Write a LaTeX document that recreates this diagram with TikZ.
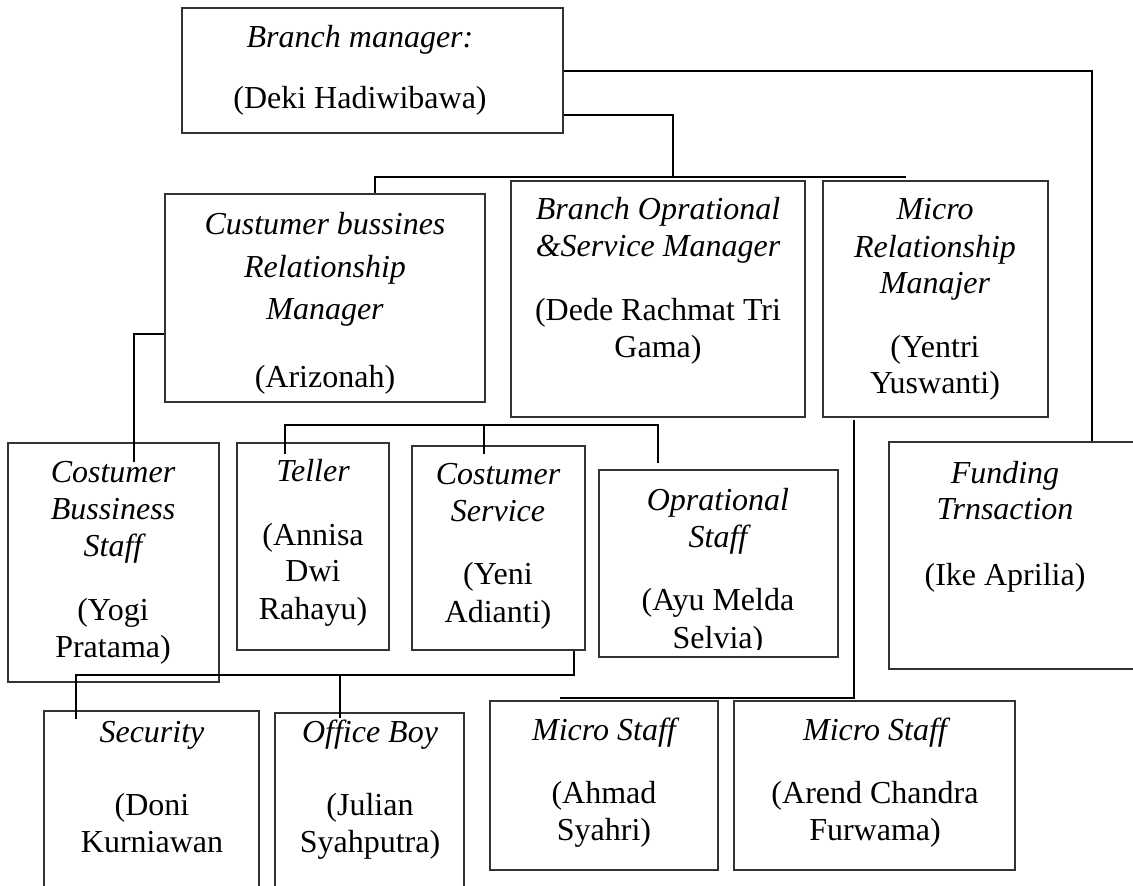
\documentclass[tikz,border=0pt]{standalone}
\usepackage{fontspec}
\setmainfont{Liberation Serif}
\usetikzlibrary{calc}
\newcommand\obox[5]{\node[box, minimum width={(#4-#2)*1pt}, minimum height={(#5-#3)*1pt}] (#1) at ({(#2+#4)/2},{(#3+#5)/2}) {};}
\begin{document}
\begin{tikzpicture}[x=1pt,y=-1pt,
  box/.style={draw=black!80, line width=1.1pt, inner sep=0pt},
  tx/.style={anchor=base, inner sep=0pt, font=\fontsize{32}{37}\selectfont},
  ti/.style={anchor=base, inner sep=0pt, font=\fontsize{32}{37}\selectfont\itshape},
  wire/.style={draw=black, line width=2pt}]
\useasboundingbox (0,0) rectangle (1133,886);
\clip (0,0) rectangle (1133,886);
\fill[white] (0,0) rectangle (1133,886);
% boxes
\obox{bm}{182}{8}{563}{133}
\obox{cbrm}{165}{194}{485}{402}
\obox{bosm}{511}{181}{805}{417}
\obox{mrm}{823}{181}{1048}{417}
\obox{cbs}{8}{443}{219}{682}
\obox{tel}{237}{443}{389}{650}
\obox{cs}{412}{446}{585}{650}
\obox{ops}{599}{470}{838}{657}
\obox{fund}{889}{442}{1145}{669}
\obox{sec}{44}{711}{259}{920}
\obox{ob}{275}{713}{464}{920}
\obox{ms1}{490}{701}{718}{870}
\obox{ms2}{734}{701}{1015}{870}
% texts
\node[ti] (bm1) at (360,47) {Branch manager:};
\node[tx] (bm2) at (360,108) {(Deki Hadiwibawa)};
\node[ti] (cb1) at (325,234) {Custumer bussines};
\node[ti] (cb2) at (325,277) {Relationship};
\node[ti] (cb3) at (325,319) {Manager};
\node[tx] (cb4) at (325,387) {(Arizonah)};
\node[ti] (bo1) at (658,219) {Branch Oprational};
\node[ti] (bo2) at (658,256) {\&Service Manager};
\node[tx] (bo3) at (658,320) {(Dede Rachmat Tri};
\node[tx] (bo4) at (658,357) {Gama)};
\node[ti] (mr1) at (935,219) {Micro};
\node[ti] (mr2) at (935,257) {Relationship};
\node[ti] (mr3) at (935,293) {Manajer};
\node[tx] (mr4) at (935,357) {(Yentri};
\node[tx] (mr5) at (935,393) {Yuswanti)};
\node[ti] (cs1) at (113,482) {Costumer};
\node[ti] (cs2) at (113,519) {Bussiness};
\node[ti] (cs3) at (113,556) {Staff};
\node[tx] (cs4) at (113,620) {(Yogi};
\node[tx] (cs5) at (113,657) {Pratama)};
\node[ti] (te1) at (313,481) {Teller};
\node[tx] (te2) at (313,545) {(Annisa};
\node[tx] (te3) at (313,581) {Dwi};
\node[tx] (te4) at (313,619) {Rahayu)};
\node[ti] (sv1) at (498,484) {Costumer};
\node[ti] (sv2) at (498,521) {Service};
\node[tx] (sv3) at (498,584) {(Yeni};
\node[tx] (sv4) at (498,622) {Adianti)};
\node[ti] (op1) at (718,510) {Oprational};
\node[ti] (op2) at (718,547) {Staff};
\node[tx] (op3) at (718,610) {(Ayu Melda};
\begin{scope}
\clip (600,620) rectangle (837,649);
\node[tx] (op4) at (718,648) {Selvia)};
\end{scope}
\node[ti] (fu1) at (1005,483) {Funding};
\node[ti] (fu2) at (1005,519) {Trnsaction};
\node[tx] (fu3) at (1005,585) {(Ike Aprilia)};
\node[ti] (se1) at (152,742) {Security};
\node[tx] (se2) at (152,815) {(Doni};
\node[tx] (se3) at (152,852) {Kurniawan};
\node[ti] (ob1) at (370,742) {Office Boy};
\node[tx] (ob2) at (370,815) {(Julian};
\node[tx] (ob3) at (370,852) {Syahputra)};
\node[ti] (ma1) at (604,740) {Micro Staff};
\node[tx] (ma2) at (604,803) {(Ahmad};
\node[tx] (ma3) at (604,840) {Syahri)};
\node[ti] (mb1) at (875,740) {Micro Staff};
\node[tx] (mb2) at (875,803) {(Arend Chandra};
\node[tx] (mb3) at (875,840) {Furwama)};
% connectors
\coordinate (j1) at (673,177);
\coordinate (b1r) at (906,177);
\draw[wire] (bm.east) -| ($(fund.north west)+(204,0)$);
\draw[wire] ($(bm.south east)+(0,-19)$) -| (j1);
\draw[wire] ($(cbrm.north west)+(211,0)$) |- (b1r);
\draw[wire] ($(cbrm.north west)+(0,141)$) -| ($(cbs.north west)+(127,20)$);
\draw[wire] ($(tel.north west)+(49,12)$) |- ($(ops.north west)+(60,-44)$) -- ($(ops.north west)+(60,-6)$);
\draw[wire] ($(cs.north west)+(73,9)$) -- ++(0,-29);
\draw[wire] ($(cs.south west)+(163,0)$) |- ($(sec.north west)+(33,-35)$) -- ($(sec.north west)+(33,9)$);
\draw[wire] ($(ob.north west)+(66,6)$) -- ++(0,-43);
\draw[wire] ($(mrm.south west)+(32,2)$) |- ($(ms1.north west)+(71,-2)$);
\end{tikzpicture}
\end{document}
